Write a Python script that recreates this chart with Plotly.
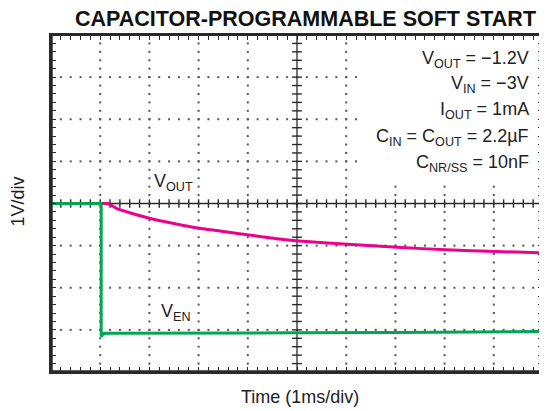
import numpy as np
import plotly.graph_objects as go

# ---- data (time in ms, voltage in V relative to screen centre) ----
vout_t = [0, 1.02, 1.15, 1.25, 1.35, 1.5, 1.6, 2.0, 2.475, 3.02, 3.62, 4.03, 4.64, 5.04, 6.03, 7.04, 8.04, 9.05, 10.0]
vout_v = [0, 0, 0, -0.06, -0.13, -0.18, -0.22, -0.35, -0.47, -0.59, -0.685, -0.75, -0.845, -0.89, -0.97, -1.04, -1.10, -1.14, -1.17]

ven_t = [0, 1.02, 1.02, 1.06, 1.12, 3.0, 5.0, 7.0, 10.0]
ven_v = [0, 0, -3.16, -3.09, -3.08, -3.08, -3.07, -3.06, -3.04]

cond_lines = [
    "V<sub>OUT</sub> = −1.2V",
    "V<sub>IN</sub> = −3V",
    "I<sub>OUT</sub> = 1mA",
    "C<sub>IN</sub> = C<sub>OUT</sub> = 2.2µF",
    "C<sub>NR/SS</sub> = 10nF",
]
cond_y = [3.42, 2.82, 2.20, 1.57, 0.96]

X_DIVS = 10
Y_DIVS = 8
MINOR = 0.2

FONT = "Liberation Sans, Arial, Helvetica, sans-serif"
GREEN = "#00A651"
MAGENTA = "#EC008C"
DARK = "#2a2a2a"
GRIDC = "#555555"

fig = go.Figure()

# dotted graticule
gx, gy = [], []
for xv in range(1, X_DIVS):
    if xv == X_DIVS // 2:
        continue
    ys = np.arange(-Y_DIVS / 2 + MINOR, Y_DIVS / 2 - MINOR / 2, MINOR)
    gx += [xv] * len(ys)
    gy += list(ys)
for yv in range(-Y_DIVS // 2 + 1, Y_DIVS // 2):
    if yv == 0:
        continue
    xs = np.arange(MINOR, X_DIVS - MINOR / 2, MINOR)
    gx += list(xs)
    gy += [yv] * len(xs)
fig.add_trace(go.Scatter(x=gx, y=gy, mode="markers", hoverinfo="skip",
                         marker=dict(symbol="square", size=2, color=GRIDC, line=dict(width=0)),
                         showlegend=False))

# centre crosshair ticks
cx = np.arange(0, X_DIVS + MINOR / 2, MINOR)
fig.add_trace(go.Scatter(x=cx, y=[0] * len(cx), mode="markers", hoverinfo="skip",
                         marker=dict(symbol="line-ns", size=6, line=dict(width=1.4, color=DARK)),
                         showlegend=False))
cy = np.arange(-Y_DIVS / 2, Y_DIVS / 2 + MINOR / 2, MINOR)
fig.add_trace(go.Scatter(x=[X_DIVS / 2] * len(cy), y=cy, mode="markers", hoverinfo="skip",
                         marker=dict(symbol="line-ew", size=7, line=dict(width=1.4, color=DARK)),
                         showlegend=False))

# signals
fig.add_trace(go.Scatter(x=vout_t, y=vout_v, mode="lines", line=dict(color=MAGENTA, width=3, shape="spline", smoothing=0.6),
                         showlegend=False))
fig.add_trace(go.Scatter(x=ven_t, y=ven_v, mode="lines", line=dict(color=GREEN, width=3),
                         showlegend=False))

# crosshair, condition box and borders
shapes = [
    dict(type="line", xref="x", yref="paper", x0=X_DIVS / 2, x1=X_DIVS / 2, y0=0, y1=1, line=dict(color=DARK, width=1.3), layer="below"),
    dict(type="line", xref="paper", yref="y", x0=0, x1=1, y0=0, y1=0, line=dict(color=DARK, width=1.3), layer="below"),
    dict(type="rect", xref="x", yref="y", x0=6.27, x1=9.86, y0=0.5, y1=3.86, fillcolor="white", line=dict(width=0), layer="above"),
    dict(type="line", xref="paper", yref="paper", x0=0, x1=0, y0=0, y1=1, line=dict(color=DARK, width=3.5)),
    dict(type="line", xref="paper", yref="paper", x0=0, x1=1, y0=0, y1=0, line=dict(color=DARK, width=3.5)),
    dict(type="line", xref="paper", yref="paper", x0=0, x1=1, y0=1, y1=1, line=dict(color=DARK, width=2.2)),
]

annotations = [
    dict(text="<b>CAPACITOR-PROGRAMMABLE SOFT START</b>", xref="paper", yref="paper", x=0.99, y=1.048,
         xanchor="right", yanchor="middle", showarrow=False, font=dict(size=21.5, color="#111", family=FONT)),
    dict(text="1V/div", xref="paper", yref="paper", x=-0.067, y=0.506, textangle=-90,
         xanchor="center", yanchor="middle", showarrow=False, font=dict(size=18, color="#222", family=FONT)),
    dict(text="Time (1ms/div)", xref="paper", yref="paper", x=0.506, y=-0.074,
         xanchor="center", yanchor="middle", showarrow=False, font=dict(size=18, color="#222", family=FONT)),
    dict(text="V<sub>OUT</sub>", xref="x", yref="y", x=2.06, y=0.5,
         xanchor="left", yanchor="middle", showarrow=False, font=dict(size=18, color="#222", family=FONT)),
    dict(text="V<sub>EN</sub>", xref="x", yref="y", x=2.2, y=-2.58,
         xanchor="left", yanchor="middle", showarrow=False, font=dict(size=18, color="#222", family=FONT)),
]
for txt, yv in zip(cond_lines, cond_y):
    annotations.append(dict(text=txt, xref="x", yref="y", x=9.76, y=yv, xanchor="right", yanchor="middle",
                            showarrow=False, font=dict(size=18, color="#222", family=FONT)))

axis_common = dict(showgrid=False, zeroline=False, showticklabels=False, ticks="inside",
                   tickmode="linear", tick0=0, dtick=MINOR, ticklen=5, tickwidth=1, tickcolor=DARK,
                   showline=True, linecolor=DARK, linewidth=1.5, mirror="ticks", fixedrange=True)

# the page body has an 8px default margin, so the figure is 8px smaller than the window
fig.update_layout(
    width=539, height=403,
    margin=dict(l=43, r=2, t=27, b=39),
    paper_bgcolor="white", plot_bgcolor="white",
    xaxis=dict(range=[0, X_DIVS], **axis_common),
    yaxis=dict(range=[-Y_DIVS / 2, Y_DIVS / 2], **axis_common),
    shapes=shapes, annotations=annotations,
    showlegend=False,
)

fig.write_html("out.html")
